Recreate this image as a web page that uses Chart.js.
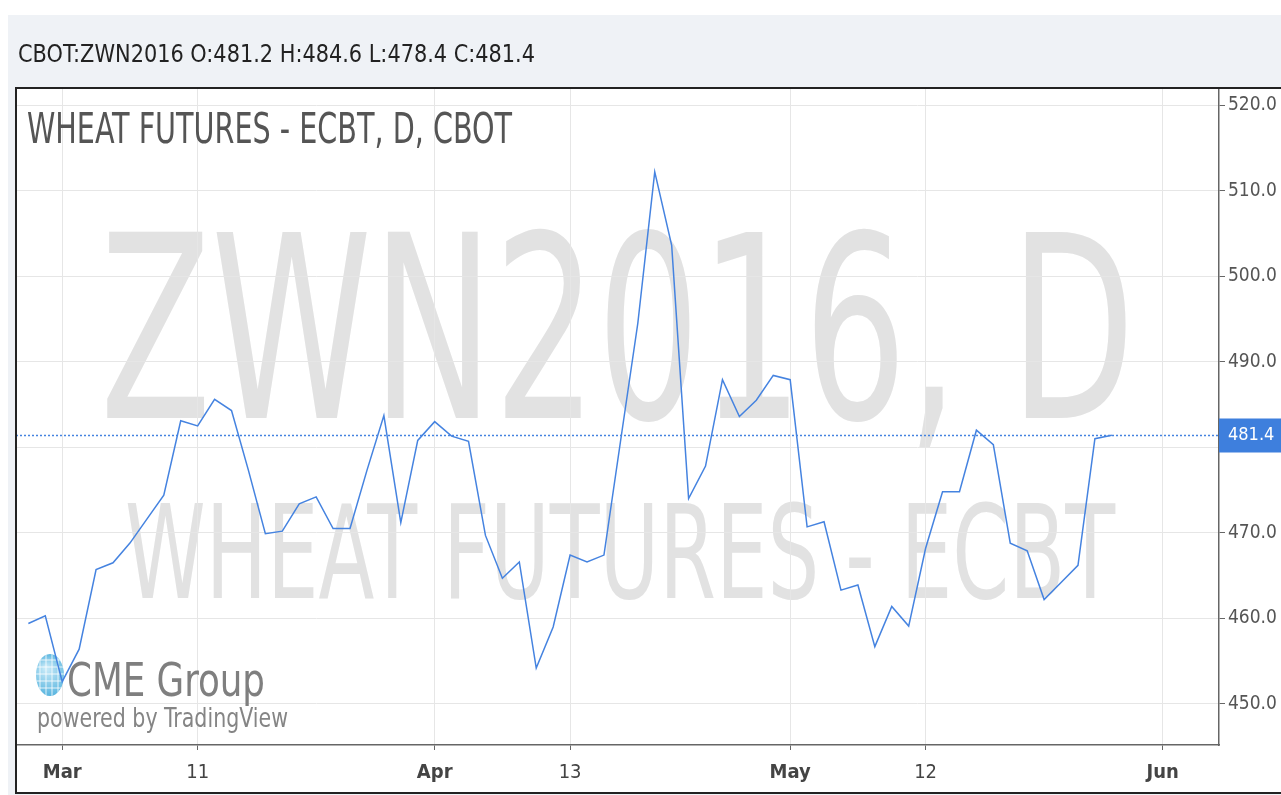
<!DOCTYPE html>
<html>
<head>
<meta charset="utf-8">
<script src="https://cdn.jsdelivr.net/npm/chart.js@4.4.1/dist/chart.umd.min.js"></script>
<style>
  html, body { margin: 0; padding: 0; background: #fff; }
</style>
</head>
<body>
<canvas id="myChart" width="1281" height="795"></canvas>
<script>
// ZWN2016 daily closes, one per trading day (Feb 26 .. May 27, 2016)
const closes = [
  459.4, 460.3, 452.6, 456.4, 465.7, 466.5, 468.8, 471.6, 474.4, 483.1,
  482.5, 485.6, 484.3, 477.3, 469.9, 470.2, 473.4, 474.2, 470.5, 470.5,
  477.3, 483.7, 471.2, 480.8, 483.0, 481.3, 480.7, 469.7, 464.7, 466.6,
  454.2, 459.0, 467.4, 466.6, 467.4, 481.0, 494.5, 512.2, 503.6, 474.0,
  477.8, 487.9, 483.6, 485.5, 488.4, 487.9, 470.7, 471.3, 463.3, 463.9,
  456.7, 461.4, 459.1, 468.2, 474.8, 474.8, 482.0, 480.3, 468.8, 467.9,
  462.2, 464.2, 466.2, 481.0, 481.4
];

// x ticks: bar index of each date label
const tickIndex = [2, 10, 24, 32, 45, 53, 67];
const tickLabels = ['Mar', '11', 'Apr', '13', 'May', '12', 'Jun'];
const monthLabels = ['Mar', 'Apr', 'May', 'Jun'];
const yTicks = [450, 460, 470, 480, 490, 500, 510, 520];

const headerText = 'CBOT:ZWN2016 O:481.2 H:484.6 L:478.4 C:481.4';
const titleText = 'WHEAT FUTURES - ECBT, D, CBOT';
const watermark1 = 'ZWN2016, D';
const watermark2 = 'WHEAT FUTURES - ECBT';

const FONT = '"DejaVu Sans Condensed", "DejaVu Sans", sans-serif';
const BLUE = '#4583e0';

// draw text squeezed/stretched to a given width
function fitText(ctx, text, x, y, font, color, width) {
  ctx.save();
  ctx.font = font;
  ctx.fillStyle = color;
  ctx.textBaseline = 'alphabetic';
  ctx.textAlign = 'left';
  const w = ctx.measureText(text).width;
  ctx.translate(x, y);
  ctx.scale(width / w, 1);
  ctx.fillText(text, 0, 0);
  ctx.restore();
}

const decor = {
  id: 'decor',
  beforeDraw(chart) {
    const { ctx, chartArea: a } = chart;
    ctx.save();
    ctx.fillStyle = '#eff2f6';
    ctx.fillRect(8, 15, 1273, 780);
    ctx.fillStyle = '#fff';
    ctx.fillRect(16, a.top, 1265, 793 - a.top);
    ctx.restore();
    fitText(ctx, headerText, 18, 62, '24px ' + FONT, '#222', 517);
    fitText(ctx, watermark1, 100, 418, '255px ' + FONT, '#e2e2e2', 1035);
    fitText(ctx, watermark2, 125, 598, '130px ' + FONT, '#e2e2e2', 990);
  },
  beforeDatasetsDraw(chart) {
    const { ctx } = chart;
    fitText(ctx, titleText, 27, 143, '42px ' + FONT, '#555', 485);
    // CME globe
    ctx.save();
    ctx.beginPath();
    ctx.ellipse(50, 675, 14, 21, 0, 0, Math.PI * 2);
    const g = ctx.createRadialGradient(46, 668, 2, 50, 675, 22);
    g.addColorStop(0, '#c4e8f7');
    g.addColorStop(1, '#55b3de');
    ctx.fillStyle = g;
    ctx.fill();
    ctx.clip();
    ctx.strokeStyle = 'rgba(255,255,255,0.8)';
    ctx.lineWidth = 1;
    for (let yy = 660; yy <= 692; yy += 7) {
      ctx.beginPath(); ctx.moveTo(34, yy); ctx.lineTo(66, yy); ctx.stroke();
    }
    for (let xx = 40; xx <= 62; xx += 6) {
      ctx.beginPath(); ctx.moveTo(xx, 652); ctx.lineTo(xx, 698); ctx.stroke();
    }
    ctx.restore();
    fitText(ctx, 'CME Group', 67, 696, '500 47px ' + FONT, '#7f7f7f', 198);
    fitText(ctx, 'powered by TradingView', 37, 727, '27px ' + FONT, '#858585', 251);
  },
  afterDraw(chart) {
    const { ctx, chartArea: a, scales: { y } } = chart;
    const last = closes[closes.length - 1];
    const py = Math.round(y.getPixelForValue(last)) + 0.5;
    ctx.save();
    ctx.strokeStyle = BLUE;
    ctx.lineWidth = 1.5;
    ctx.setLineDash([2, 2]);
    ctx.beginPath();
    ctx.moveTo(a.left, py);
    ctx.lineTo(a.right, py);
    ctx.stroke();
    ctx.setLineDash([]);
    ctx.fillStyle = '#3e7fdd';
    ctx.fillRect(a.right, py - 17, 1281 - a.right, 34);
    ctx.fillStyle = '#fff';
    ctx.font = '18px ' + FONT;
    ctx.textBaseline = 'middle';
    ctx.fillText(last.toFixed(1), a.right + 9, py);
    // outer frame
    ctx.strokeStyle = '#222';
    ctx.lineWidth = 2;
    ctx.beginPath();
    ctx.moveTo(1281, a.top);
    ctx.lineTo(16, a.top);
    ctx.lineTo(16, 793);
    ctx.lineTo(1281, 793);
    ctx.stroke();
    ctx.restore();
  }
};

const ctx = document.getElementById('myChart').getContext('2d');
new Chart(ctx, {
  type: 'line',
  data: {
    datasets: [{
      data: closes.map((v, i) => ({ x: i, y: v })),
      borderColor: BLUE,
      borderWidth: 1.5,
      pointRadius: 0,
      tension: 0,
      fill: false
    }]
  },
  options: {
    responsive: false,
    animation: false,
    devicePixelRatio: 1,
    layout: { padding: { left: 16, top: 88, right: 0, bottom: 2 } },
    plugins: { legend: { display: false }, tooltip: { enabled: false } },
    scales: {
      x: {
        type: 'linear',
        min: -0.73,
        max: 70.33,
        afterFit: s => { s.height = 48; },
        afterBuildTicks: s => { s.ticks = tickIndex.map(v => ({ value: v })); },
        grid: { color: '#e6e6e6', tickColor: '#666', tickLength: 5 },
        border: { color: '#666', width: 1.5 },
        ticks: {
          autoSkip: false,
          maxRotation: 0,
          padding: 11,
          color: '#444',
          font: c => ({
            family: FONT,
            size: 20,
            weight: monthLabels.includes(tickLabels[c.index]) ? 'bold' : 'normal'
          }),
          callback: (v, i) => tickLabels[i]
        }
      },
      y: {
        position: 'right',
        min: 445.2,
        max: 522,
        afterFit: s => { s.width = 62; },
        afterBuildTicks: s => { s.ticks = yTicks.map(v => ({ value: v })); },
        grid: { color: '#e6e6e6', tickColor: '#666', tickLength: 6 },
        border: { color: '#666', width: 1.5 },
        ticks: {
          padding: 3,
          color: '#555',
          font: { family: FONT, size: 19 },
          callback: v => v.toFixed(1)
        }
      }
    }
  },
  plugins: [decor]
});
</script>
</body>
</html>
